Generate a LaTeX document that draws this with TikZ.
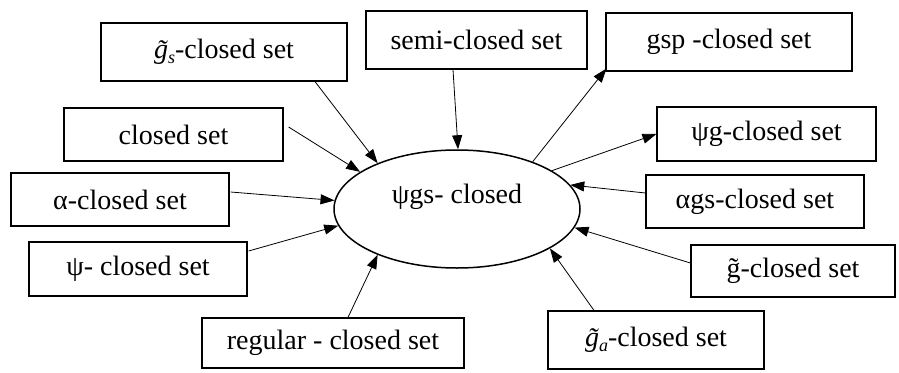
\documentclass[tikz,border=0pt]{standalone}
\usepackage{fontspec}
\setmainfont{Liberation Serif}
\usetikzlibrary{arrows.meta,shapes.geometric}
\newcommand{\tg}[1]{{\itshape \~{g}}\raisebox{-5pt}{\fontsize{18}{20}\selectfont\itshape #1}}
\tikzset{
  box/.style={draw, line width=1.2pt, inner sep=0pt, align=center, font=\fontsize{28}{32}\selectfont},
  conn/.style={line width=0.8pt, -{Triangle[length=14pt,width=10pt]}},
}
\begin{document}
\begin{tikzpicture}[x=1pt,y=-1pt]
\useasboundingbox (0,0) rectangle (899,372);
\node[draw, ellipse, line width=1.5pt, minimum width=246pt, minimum height=118pt, inner sep=0pt, font=\fontsize{28}{32}\selectfont] (E) at (457,209) {\raisebox{30pt}{ψgs- closed}};

\node[box, minimum width=246pt, minimum height=58pt] (gs) at (224,52) {\tg{s}-closed set};
\node[box, minimum width=221pt, minimum height=58pt] (semi) at (476.5,40) {semi-closed set};
\node[box, minimum width=246pt, minimum height=58pt] (gsp) at (729,42) {gsp -closed set};
\node[box, minimum width=219pt, minimum height=54pt] (psig) at (766.5,134) {ψg-closed set};
\node[box, minimum width=218pt, minimum height=53pt] (ags) at (755,201.5) {αgs-closed set};
\node[box, minimum width=204pt, minimum height=52pt] (gt) at (793,271) {\~{g}-closed set};
\node[box, minimum width=216pt, minimum height=58pt] (ga) at (656,340) {\tg{a}-closed set};
\node[box, minimum width=262pt, minimum height=50pt] (reg) at (333,343) {regular - closed set};
\node[box, minimum width=218pt, minimum height=54pt] (psi) at (138,269) {ψ- closed set};
\node[box, minimum width=218pt, minimum height=53pt] (alpha) at (120,199.5) {α-closed set};
\node[box, minimum width=219pt, minimum height=53pt] (closed) at (173.5,134.5) {closed set};

\draw[conn] ([xshift=91pt]gs.south) -- (E.150);
\draw[conn] ([xshift=5pt,yshift=7.5pt]closed.east) -- (E.159);
\draw[conn] ([xshift=1pt,yshift=7.5pt]alpha.east) -- (E.176);
\draw[conn] ([xshift=1pt,yshift=18pt]psi.east) -- (E.188);
\draw[conn] ([xshift=15pt]reg.north) -- (E.210);
\draw[conn] ([xshift=-62pt]ga.north) -- (E.337.5);
\draw[conn] ([yshift=8pt]gt.west) -- (E.351);
\draw[conn] ([yshift=8.5pt]ags.west) -- (E.12);
\draw[conn] (E.22) -- (psig.west);
\draw[conn] (E.32) -- ([xshift=1pt,yshift=3pt]gsp.south west);
\draw[conn] ([xshift=-23.5pt]semi.south) -- (E.89);
\end{tikzpicture}
\end{document}
